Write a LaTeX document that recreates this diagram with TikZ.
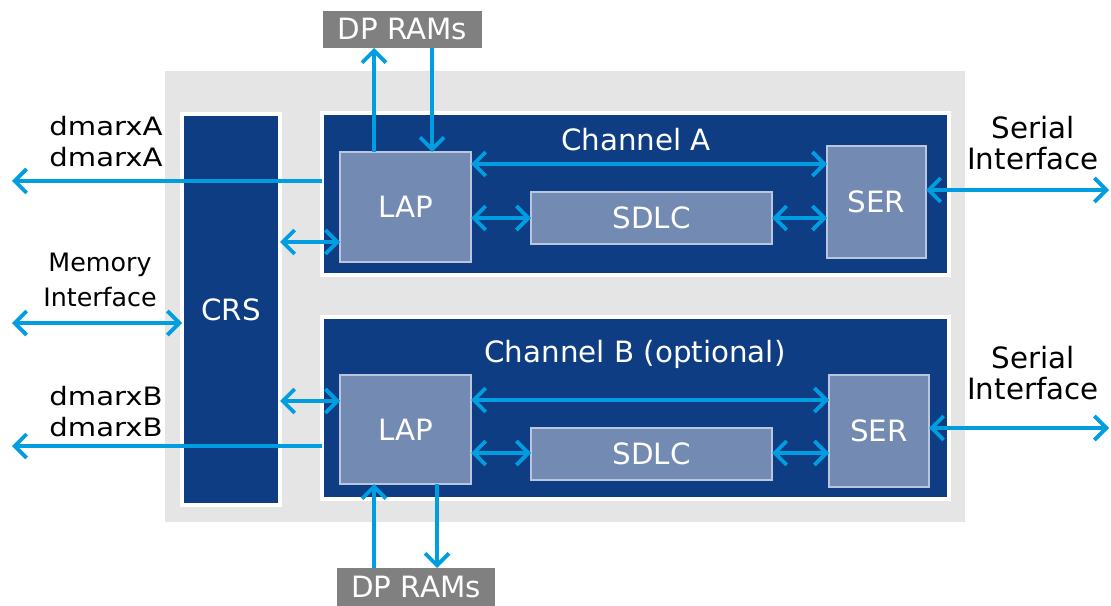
\documentclass[tikz,border=0pt]{standalone}
\usepackage{fontspec}
\setmainfont{DejaVu Sans}
\newfontfamily\widefont{DejaVu Sans}[FakeStretch=1.15]
\usetikzlibrary{arrows.meta,fit}
\definecolor{dblue}{RGB}{14,61,132}
\definecolor{lblue}{RGB}{115,138,178}
\definecolor{lborder}{RGB}{185,198,222}
\definecolor{bggray}{RGB}{229,229,229}
\definecolor{ramgray}{RGB}{128,128,128}
\definecolor{arrblue}{RGB}{0,158,224}
\begin{document}
\begin{tikzpicture}[x=0.75pt,y=-0.75pt,
  >={Straight Barb[length=9pt,width=18pt]},
  txt/.style={font=\fontsize{22}{23.25}\selectfont, inner sep=0pt},
  widetxt/.style={font=\widefont\fontsize{19}{23.25}\selectfont, inner sep=0pt},
  smalltxt/.style={font=\fontsize{19}{26}\selectfont, inner sep=0pt},
  wtxt/.style={txt, text=white},
  bgbox/.style={inner sep=0pt, outer sep=0pt, fill=bggray},
  outerbox/.style={inner sep=0pt, outer sep=0pt, fill=dblue, draw=white, line width=2.5pt},
  innerbox/.style={inner sep=0pt, outer sep=0pt, fill=lblue, draw=lborder, line width=0.8pt},
  rambox/.style={inner sep=0pt, outer sep=0pt, fill=ramgray},
  arr/.style={draw=arrblue, line width=2.8pt}
]
\useasboundingbox (0,0) rectangle (1111,606);

% background
\node[bgbox, fit={(165,71) (965,522)}] (bg) {};

% DP RAMs
\node[rambox, fit={(323,11) (482,48)}, label={[wtxt]center:DP RAMs}] (ramA) {};
\node[rambox, fit={(337,568) (495,606)}, label={[wtxt]center:DP RAMs}] (ramB) {};

% CRS
\node[outerbox, fit={(182,114) (280,505)}, label={[wtxt]center:CRS}] (crs) {};

% Channel A
\node[outerbox, fit={(322,113) (949,275)}] (chA) {};
\node[wtxt] (chAlbl) at (636,140) {Channel A};
\node[innerbox, fit={(340,152) (471,262)}, label={[wtxt]center:LAP}] (lapA) {};
\node[innerbox, fit={(531,192) (772,244)}, label={[wtxt]center:SDLC}] (sdlcA) {};
\node[innerbox, fit={(827,146) (926,258)}, label={[wtxt]center:SER}] (serA) {};

% Channel B
\node[outerbox, fit={(322,317) (949,499)}] (chB) {};
\node[wtxt] (chBlbl) at (635,354) {Channel B (optional)};
\node[innerbox, fit={(340,375) (471,484)}, label={[wtxt]center:LAP}] (lapB) {};
\node[innerbox, fit={(531,428) (772,480)}, label={[wtxt]center:SDLC}] (sdlcB) {};
\node[innerbox, fit={(829,375) (929,487)}, label={[wtxt]center:SER}] (serB) {};

% outside labels
\node[widetxt, align=right] (lblA) at (106,142) {dmarxA\\dmarxA};
\node[smalltxt, align=center] (lblM) at (100,280) {Memory\\Interface};
\node[widetxt, align=right] (lblB) at (106,412) {dmarxB\\dmarxB};
\node[txt, align=center] (lblSA) at (1033,143) {Serial\\Interface};
\node[txt, align=center] (lblSB) at (1033,373) {Serial\\Interface};

% free ends
\coordinate (endA) at (12,181);
\coordinate (endM) at (12,323);
\coordinate (endB) at (12,446);
\coordinate (endSA) at (1109,190);
\coordinate (endSB) at (1109,428);

% Channel A connectors
\draw[arr,->] (lapA.north -| 374,0) -- (ramA.south -| 374,0);
\draw[arr,->] (ramA.south -| 432,0) -- (lapA.north -| 432,0);
\draw[arr,<->] (lapA.east |- 0,164) -- (serA.west |- 0,164);
\draw[arr,<->] (lapA.east |- 0,218) -- (sdlcA.west |- 0,218);
\draw[arr,<->] (sdlcA.east |- 0,218) -- (serA.west |- 0,218);
\draw[arr,<->] (serA.east |- endSA) -- (endSA);
\draw[arr,->] (chA.west |- endA) -- (endA);
\draw[arr,<->] (crs.east |- 0,242) -- (lapA.west |- 0,242);

% memory
\draw[arr,<->] (endM) -- (crs.west |- endM);

% Channel B connectors
\draw[arr,<->] (crs.east |- 0,401) -- (lapB.west |- 0,401);
\draw[arr,->] (chB.west |- endB) -- (endB);
\draw[arr,<->] (lapB.east |- 0,400) -- (serB.west |- 0,400);
\draw[arr,<->] (lapB.east |- 0,453) -- (sdlcB.west |- 0,453);
\draw[arr,<->] (sdlcB.east |- 0,453) -- (serB.west |- 0,453);
\draw[arr,<->] (serB.east |- endSB) -- (endSB);
\draw[arr,->] (ramB.north -| 374,0) -- (lapB.south -| 374,0);
\draw[arr,->] (lapB.south -| 437,0) -- (ramB.north -| 437,0);
\end{tikzpicture}
\end{document}
